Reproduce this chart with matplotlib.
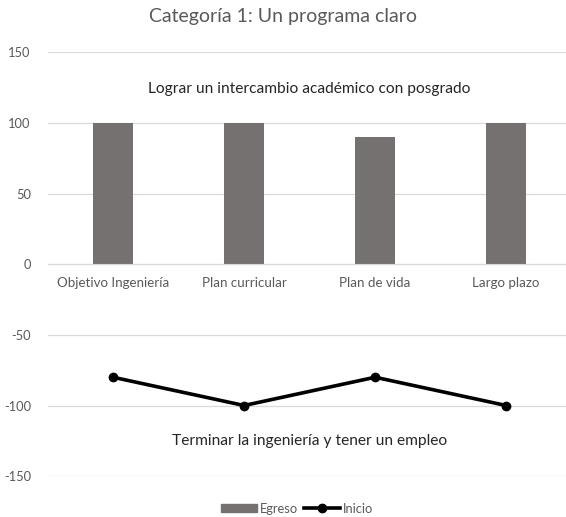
import numpy as np
import matplotlib.pyplot as plt
from matplotlib.lines import Line2D
from matplotlib.patches import Patch

# datos
categorias = ["Objetivo Ingeniería", "Plan curricular", "Plan de vida", "Largo plazo"]
egreso = [100, 100, 90, 100]
inicio = [-80, -100, -80, -100]
y_ticks = [-150, -100, -50, 0, 50, 100, 150]
texto_arriba = "Lograr un intercambio académico con posgrado"
texto_abajo = "Terminar la ingeniería y tener un empleo"

plt.rcParams['font.family'] = ['Lato', 'DejaVu Sans']
plt.rcParams['axes.unicode_minus'] = False

fig = plt.figure(figsize=(5.66, 5.17), dpi=100)
ax = fig.add_axes([0.084, 0.079, 0.926, 0.82])

x = np.arange(len(categorias))
ax.bar(x, egreso, width=0.31, color="#767171", zorder=2)
ax.plot(x, inicio, color="black", linewidth=2.6, marker="o", markersize=6, zorder=3)

ax.set_xlim(-0.5, len(categorias) - 0.5)
ax.set_ylim(-150, 150)
ax.set_yticks(y_ticks)
ax.yaxis.grid(True, color="#d9d9d9", linewidth=0.9, zorder=0)
ax.set_axisbelow(True)

for s in ["top", "right", "left"]:
    ax.spines[s].set_visible(False)
ax.spines["bottom"].set_position(("data", 0))
ax.spines["bottom"].set_color("#d9d9d9")
ax.set_xticks(x)
ax.set_xticklabels(categorias)
ax.tick_params(axis="x", length=0, pad=9, labelsize=9.6, labelcolor="#595959")
ax.tick_params(axis="y", length=0, pad=12, labelsize=9.3, labelcolor="#595959")

ax.text(1.5, 124, texto_arriba, ha="center", va="center", fontsize=11.2, color="#262626")
ax.text(1.5, -125, texto_abajo, ha="center", va="center", fontsize=11.2, color="#262626")

fig.suptitle("Categoría 1: Un programa claro", y=0.985, fontsize=14, color="#595959")

handles = [Patch(color="#767171", label="Egreso"),
           Line2D([0], [0], color="black", linewidth=2.6, marker="o", markersize=6, label="Inicio")]
fig.legend(handles=handles, loc="lower center", bbox_to_anchor=(0.525, -0.018), ncol=2,
           frameon=False, fontsize=9.3, labelcolor="#595959", handlelength=2.8,
           handleheight=0.55, handletextpad=0.2, columnspacing=0.5)

fig.savefig("out.png", dpi=100)
